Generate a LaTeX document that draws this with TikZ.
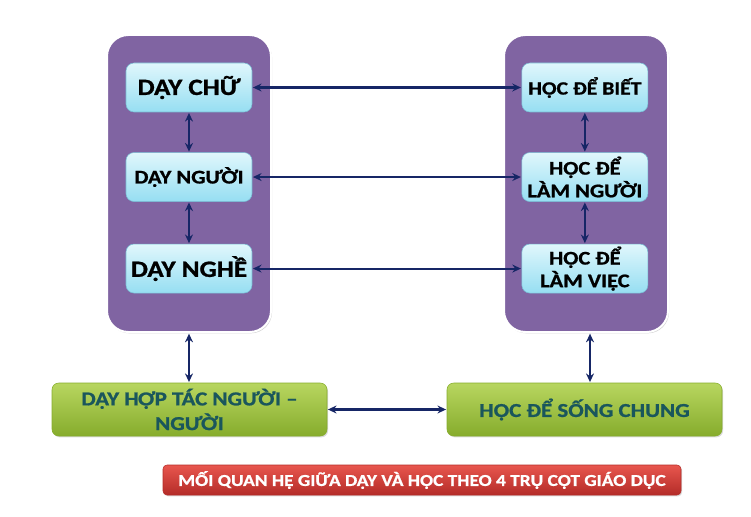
\documentclass[tikz,border=0pt]{standalone}
\usepackage{fontspec}
\setmainfont{Carlito}[FakeStretch=1.16,BoldFeatures={FakeBold=1}]
\usetikzlibrary{positioning, arrows.meta, shadows}

\definecolor{panelpurple}{RGB}{128,100,162}
\definecolor{cyantop}{RGB}{224,247,252}
\definecolor{cyanbot}{RGB}{150,222,242}
\definecolor{cyanline}{RGB}{120,188,212}
\definecolor{greentop}{RGB}{184,214,96}
\definecolor{greenbot}{RGB}{134,172,44}
\definecolor{greentext}{RGB}{26,86,92}
\definecolor{redtop}{RGB}{232,86,78}
\definecolor{redbot}{RGB}{180,44,40}
\definecolor{navy}{RGB}{22,38,102}

\begin{document}
\begin{tikzpicture}[x=0.75pt,y=-0.75pt,<->,>={Stealth[length=6.5pt,width=6pt,inset=2.2pt]},shorten >=0.5pt,shorten <=0.5pt,
    panel/.style={rectangle,rounded corners=16pt,draw=white,line width=1.5pt,fill=panelpurple,
      minimum width=123pt,minimum height=222.75pt,drop shadow={opacity=0.35,shadow xshift=0.8pt,shadow yshift=-1pt}},
    inner box/.style={rectangle,rounded corners=6pt,draw=cyanline,thin,top color=cyantop,bottom color=cyanbot,
      minimum width=94.5pt,minimum height=36.75pt,inner sep=1pt,align=center,
      font=\bfseries\fontsize{14.5}{17}\selectfont},
    big text/.style={font=\bfseries\fontsize{17.5}{19}\selectfont},
    green box/.style={rectangle,rounded corners=5pt,draw=greenbot,thin,top color=greentop,bottom color=greenbot,
      minimum width=206.25pt,minimum height=39.75pt,align=center,text=greentext,
      font=\bfseries\fontsize{14.8}{18.5}\selectfont,drop shadow={opacity=0.3,shadow xshift=0.8pt,shadow yshift=-1pt}},
    title box/.style={rectangle,rounded corners=3pt,draw=redbot,thin,top color=redtop,bottom color=redbot,
      minimum width=388.5pt,minimum height=22.5pt,text=white,
      font=\bfseries\fontsize{12.5}{13}\selectfont,drop shadow={opacity=0.3,shadow xshift=0.8pt,shadow yshift=-1pt}},
    link/.style={draw=navy,line width=1.6pt}]
\useasboundingbox (0,0) rectangle (751,517);

% two columns
\node[panel] (dayp) at (189,183.5) {};
\node[panel] (hocp) at (586,183.5) {};

\node[inner box,big text] (chu)                            at (189,87.5) {DẠY CHỮ};
\node[inner box]          (nguoi)  [below=30pt of chu]                 {DẠY NGƯỜI};
\node[inner box,big text] (nghe)   [below=31.5pt of nguoi]             {DẠY NGHỀ};
\node[inner box,font=\bfseries\fontsize{14}{17}\selectfont] (biet) [right=202pt of chu] {HỌC ĐỂ BIẾT};
\node[inner box]          (lamng)  [right=202pt of nguoi]              {HỌC ĐỂ\\LÀM NGƯỜI};
\node[inner box]          (lamviec)[right=202pt of nghe]               {HỌC ĐỂ\\LÀM VIỆC};

% bottom row
\node[green box] (hoptac) at (189.5,409.5) {DẠY HỢP TÁC NGƯỜI –\\NGƯỜI};
\node[green box] (song)   at (584.5,409.5) {HỌC ĐỂ SỐNG CHUNG};
\node[title box] (tieude) at (422,480) {MỐI QUAN HỆ GIỮA DẠY VÀ HỌC THEO 4 TRỤ CỘT GIÁO DỤC};

\draw[link] (chu) -- (biet);
\draw[link] (nguoi) -- (lamng);
\draw[link] (nghe) -- (lamviec);
\draw[link] (chu) -- (nguoi);
\draw[link] (nguoi) -- (nghe);
\draw[link] (biet) -- (lamng);
\draw[link] (lamng) -- (lamviec);
\draw[link] (dayp.south) -- (dayp.south |- hoptac.north);
\draw[link] ([xshift=3pt]hocp.south) -- ([xshift=3pt]hocp.south |- song.north);
\draw[link] (hoptac) -- (song);
\end{tikzpicture}
\end{document}
